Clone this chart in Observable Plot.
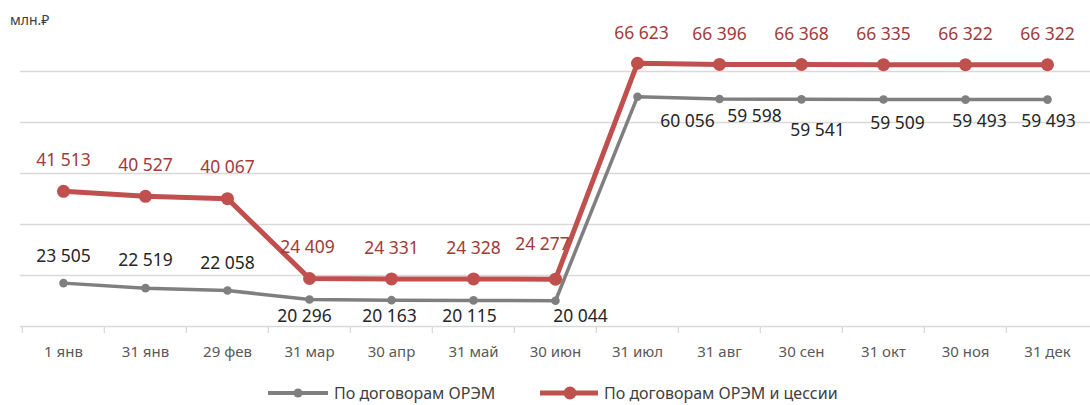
<!DOCTYPE html>
<html>
<head>
<meta charset="utf-8">
<script src="https://cdn.jsdelivr.net/npm/d3@7"></script>
<script src="https://cdn.jsdelivr.net/npm/@observablehq/plot@0.6"></script>
<style>
  html, body { margin: 0; padding: 0; background: #fff; }
  #wrap { position: relative; width: 1090px; height: 405px; font-family: "Noto Sans", sans-serif; overflow: hidden; }
  #unit { position: absolute; left: 10px; top: 10px; font-size: 14px; color: #404040; }
  .leg { position: absolute; top: 383px; height: 20px; line-height: 20px; display: flex; align-items: center; font-size: 16px; color: #404040; white-space: nowrap; }
  .leg svg { margin-right: 6px; }
</style>
</head>
<body>
<div id="wrap">
  <div id="chart"></div>
  <div id="unit">млн.₽</div>
  <div class="leg" style="left:268px"><svg width="60" height="20"><line x1="0" y1="10" x2="60" y2="10" stroke="#7F7F7F" stroke-width="4"/><circle cx="30" cy="10" r="4.5" fill="#7F7F7F"/></svg><span>По договорам ОРЭМ</span></div>
  <div class="leg" style="left:540px"><svg width="58" height="20"><line x1="0" y1="10" x2="58" y2="10" stroke="#C0504D" stroke-width="5"/><circle cx="30" cy="10" r="6.5" fill="#C0504D"/></svg><span>По договорам ОРЭМ и цессии</span></div>
</div>
<script>
const categories = ["1 янв","31 янв","29 фев","31 мар","30 апр","31 май","30 июн","31 июл","31 авг","30 сен","31 окт","30 ноя","31 дек"];
const seriesNames = ["По договорам ОРЭМ", "По договорам ОРЭМ и цессии"];
const orem = [23505, 22519, 22058, 20296, 20163, 20115, 20044, 60056, 59598, 59541, 59509, 59493, 59493];
const oremCession = [41513, 40527, 40067, 24409, 24331, 24328, 24277, 66623, 66396, 66368, 66335, 66322, 66322];
const gridValues = [25000, 35000, 45000, 55000, 65000];

// label placement nudges (layout only, pixels)
const grayNudge = [[0,-27],[0,-28],[0,-27],[-5,17],[-2,16],[-4,16],[25,16],[50,25],[35,17],[16,31],[14,24],[14,22],[1,22]];
const redNudge  = [[0,-31],[0,-31],[0,-31],[-2,-31],[0,-31],[0,-31],[-13,-35],[4,-30],[0,-30],[0,-30],[0,-30],[0,-30],[0,-30]];

const fmt = v => d3.format(",")(v).replace(/,/g, "\u00A0");
const grayData = categories.map((c,i) => ({cat: c, v: orem[i], dx: grayNudge[i][0], dy: grayNudge[i][1]}));
const redData  = categories.map((c,i) => ({cat: c, v: oremCession[i], dx: redNudge[i][0], dy: redNudge[i][1]}));

const W = 1090, H = 372, mL = 20, mR = 0;
const step = (W - mL - mR) / categories.length;

const labelMarks = (data, color) => data.map(d => Plot.text([d], {
  x: "cat", y: "v", text: t => fmt(t.v), dx: d.dx, dy: d.dy,
  fill: color, fontSize: 17.5
}));

const chart = Plot.plot({
  width: W, height: H,
  marginLeft: mL, marginRight: mR, marginTop: 20, marginBottom: 46,
  style: { fontFamily: "'Noto Sans', sans-serif", background: "#fff" },
  x: { type: "point", domain: categories, padding: 0.5, label: null },
  y: { domain: [15000, 75000], axis: null },
  marks: [
    Plot.ruleY(gridValues, { stroke: "#D9D9D9", strokeWidth: 1.3 }),
    Plot.ruleY([15000], { stroke: "#D9D9D9", strokeWidth: 1.3 }),
    Plot.ruleX(categories, { x: d => d, dx: -step / 2, y1: 15000, y2: 13650, stroke: "#D9D9D9", strokeWidth: 1.3, clip: false }),
    Plot.axisX({ tickSize: 0, tickPadding: 20, fontSize: 15, fill: "#595959", label: null }),
    Plot.line(grayData, { x: "cat", y: "v", stroke: "#7F7F7F", strokeWidth: 3.5 }),
    Plot.dot(grayData, { x: "cat", y: "v", r: 4.3, fill: "#7F7F7F" }),
    Plot.line(redData, { x: "cat", y: "v", stroke: "#C0504D", strokeWidth: 5 }),
    Plot.dot(redData, { x: "cat", y: "v", r: 6.5, fill: "#C0504D" }),
    ...labelMarks(grayData, "#262626"),
    ...labelMarks(redData, "#A33A3A")
  ]
});
document.getElementById("chart").appendChild(chart);
</script>
</body>
</html>
